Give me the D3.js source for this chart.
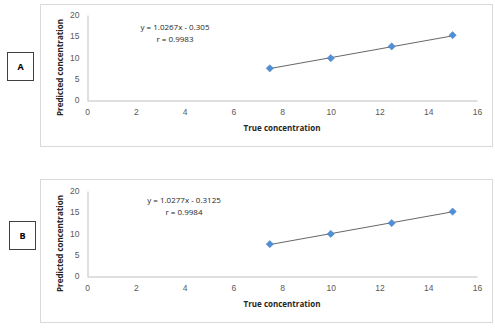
<!DOCTYPE html>
<html>
<head>
<meta charset="utf-8">
<script src="https://cdn.jsdelivr.net/npm/d3@7"></script>
<style>
  body { margin: 0; background: #fff; }
  svg { display: block; font-family: "Open Sans", "Liberation Sans", sans-serif; }
  .tick text { fill: #595959; font-size: 8.5px; }
  .axis-title { font-size: 8px; font-weight: bold; fill: #262626; }
  .eq { font-size: 8px; fill: #262626; }
</style>
</head>
<body>
<div id="chart"></div>
<script>
const width = 495, height = 329;

const trueConc = [7.5, 10, 12.5, 15];
const predA = [7.45, 9.85, 12.6, 15.25];
const predB = [7.5, 9.9, 12.45, 15.15];
const slopeA = 1.0267, interceptA = -0.305, rA = "0.9983";
const slopeB = 1.0277, interceptB = -0.3125, rB = "0.9984";
const xTicks = [0, 2, 4, 6, 8, 10, 12, 14, 16];
const yTicks = [0, 5, 10, 15, 20];

const svg = d3.select("#chart")
    .append("svg")
    .attr("width", width)
    .attr("height", height);

const panels = [
    { label: "A", pred: predA, slope: slopeA, intercept: interceptA, r: rA,
      frameTop: 4, frameBottom: 146, plotTop: 15, plotBottom: 100,
      boxX: 7, boxY: 52, eqX: 175, eqY: 30 },
    { label: "B", pred: predB, slope: slopeB, intercept: interceptB, r: rB,
      frameTop: 179, frameBottom: 322, plotTop: 191, plotBottom: 276,
      boxX: 9, boxY: 221, eqX: 184, eqY: 203 }
];

panels.forEach(p => {
    // outer chart frame
    svg.append("rect")
        .attr("x", 40.5).attr("y", p.frameTop + 0.5)
        .attr("width", 452).attr("height", p.frameBottom - p.frameTop)
        .attr("fill", "none")
        .attr("stroke", "#d9d9d9");

    // letter box
    svg.append("rect")
        .attr("x", p.boxX + 0.5).attr("y", p.boxY + 0.5)
        .attr("width", 26).attr("height", 28)
        .attr("fill", "#fff")
        .attr("stroke", "#404040");
    svg.append("text")
        .attr("x", p.boxX + 13.5).attr("y", p.boxY + 18)
        .attr("text-anchor", "middle")
        .attr("font-size", 9).attr("font-weight", "bold")
        .text(p.label);

    const xScale = d3.scaleLinear().domain([0, 16]).range([87, 477]);
    const yScale = d3.scaleLinear().domain([0, 20]).range([p.plotBottom, p.plotTop]);

    const g = svg.append("g");

    const bottomAxis = d3.axisBottom(xScale).tickValues(xTicks).tickSize(0).tickPadding(8);
    g.append("g")
        .attr("transform", `translate(0, ${p.plotBottom + 0.5})`)
        .call(bottomAxis)
        .call(a => a.select(".domain").attr("stroke", "#bfbfbf"));

    const leftAxis = d3.axisLeft(yScale).tickValues(yTicks).tickSize(0).tickPadding(8);
    g.append("g")
        .attr("transform", "translate(87.5, 0)")
        .call(leftAxis)
        .call(a => a.select(".domain").attr("stroke", "#bfbfbf"));

    // trend line from the fitted equation
    const x0 = d3.min(trueConc), x1 = d3.max(trueConc);
    g.append("line")
        .attr("x1", xScale(x0)).attr("y1", yScale(p.slope * x0 + p.intercept))
        .attr("x2", xScale(x1)).attr("y2", yScale(p.slope * x1 + p.intercept))
        .attr("stroke", "#404040")
        .attr("stroke-width", 0.8);

    g.selectAll("path.pt")
        .data(trueConc.map((x, i) => [x, p.pred[i]]))
        .join("path")
        .attr("class", "pt")
        .attr("d", d3.symbol(d3.symbolDiamond2, 34)())
        .attr("transform", d => `translate(${xScale(d[0])}, ${yScale(d[1])})`)
        .attr("fill", "#4f8fd6")
        .attr("stroke", "#4a7ebb")
        .attr("stroke-width", 0.5);

    g.append("text")
        .attr("class", "eq")
        .attr("x", p.eqX).attr("y", p.eqY)
        .attr("text-anchor", "middle")
        .text(`y = ${p.slope}x - ${Math.abs(p.intercept)}`);
    g.append("text")
        .attr("class", "eq")
        .attr("x", p.eqX).attr("y", p.eqY + 12)
        .attr("text-anchor", "middle")
        .text(`r = ${p.r}`);

    g.append("text")
        .attr("class", "axis-title")
        .attr("x", 282).attr("y", p.plotBottom + 31)
        .attr("text-anchor", "middle")
        .text("True concentration");

    g.append("text")
        .attr("class", "axis-title")
        .attr("transform", `translate(63, ${(p.plotTop + p.plotBottom) / 2 + 10}) rotate(-90)`)
        .attr("text-anchor", "middle")
        .text("Predicted concentration");
});
</script>
</body>
</html>
